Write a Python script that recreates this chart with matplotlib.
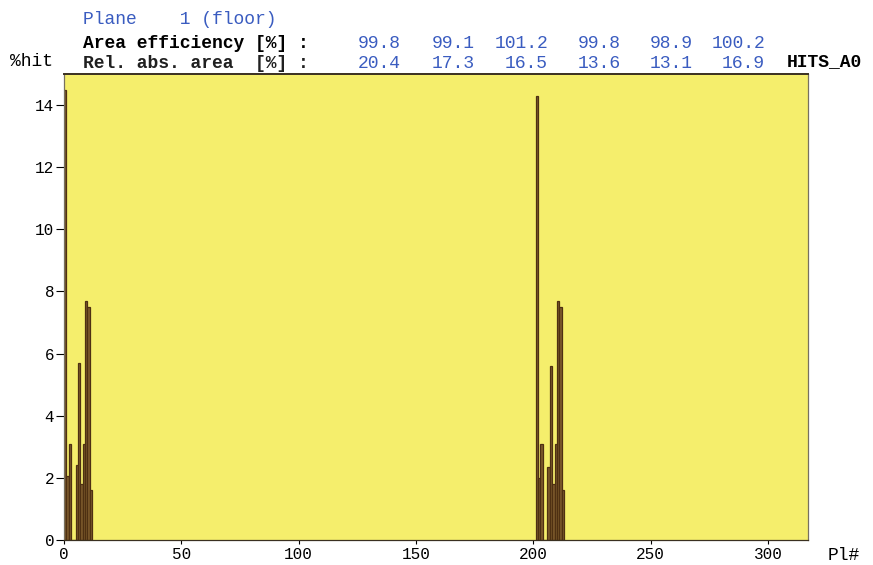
import numpy as np
import matplotlib
import matplotlib.pyplot as plt

matplotlib.rc('font', family='Liberation Mono', size=12)

# channel hit fractions per plate (two populated groups)
chan_a = np.arange(0, 12)
hits_a = [14.5, 2.05, 3.1, 0.0, 0.0, 2.4, 5.7, 1.8, 3.1, 7.7, 7.5, 1.6]
chan_b = np.arange(201, 213)
hits_b = [14.3, 2.0, 3.1, 0.0, 0.0, 2.35, 5.6, 1.8, 3.1, 7.7, 7.5, 1.6]

area_eff = [99.8, 99.1, 101.2, 99.8, 98.9, 100.2]
rel_area = [20.4, 17.3, 16.5, 13.6, 13.1, 16.9]

yticks = [0, 2, 4, 6, 8, 10, 12, 14]
xticks = [0, 50, 100, 150, 200, 250, 300]

W, H = 873, 565
fig = plt.figure(figsize=(W / 100, H / 100), dpi=100)
ax = fig.add_axes([64 / W, 1 - 540 / H, (808 - 64) / W, (540 - 74) / H])
ax.set_facecolor('#f5ee6c')

bar_kw = dict(width=1.0, align='edge', color='#7c5a2c', edgecolor='#4e3012', linewidth=0.9)
ax.bar(chan_a, hits_a, **bar_kw)
ax.bar(chan_b, hits_b, **bar_kw)

ax.set_xlim(0, 317)
ax.set_ylim(0, 15)
ax.set_yticks(yticks)
ax.set_xticks(xticks)
ax.tick_params(axis='y', direction='out', length=6, width=0.8, pad=1, labelsize=11.5)
ax.tick_params(axis='x', direction='out', length=3, width=0.8, pad=2, labelsize=11.5)
for s in ax.spines.values():
    s.set_color('#777060')
    s.set_linewidth(0.9)
ax.spines['top'].set_color('#3a3020')
ax.spines['top'].set_linewidth(1.4)
ax.spines['bottom'].set_color('#3a3020')

blue = '#3a5cc0'
mono = dict(family='Liberation Mono', fontsize=13)


def px(x, y):
    return x / W, 1 - y / H


fig.text(*px(83, 20), 'Plane    1 (floor)', color=blue, va='center', **mono)
fig.text(*px(83, 44), 'Area efficiency [%] :', color='black', fontweight='bold', va='center', **mono)
fig.text(*px(83, 64), 'Rel. abs. area  [%] :', color='#202020', fontweight='bold', va='center', **mono)

col_right = [401, 475, 548, 621, 693, 765]
for xr, v in zip(col_right, area_eff):
    fig.text(*px(xr, 44), f'{v:.1f}', color=blue, ha='right', va='center', **mono)
for xr, v in zip(col_right, rel_area):
    fig.text(*px(xr, 64), f'{v:.1f}', color=blue, ha='right', va='center', **mono)

fig.text(*px(10, 62), '%hit', color='black', va='center', **mono)
fig.text(*px(787, 62), 'HITS_A0', color='black', fontweight='bold', va='center', **mono)
fig.text(*px(828, 555), 'Pl#', color='black', va='center', **mono)

fig.savefig('out.png', dpi=100)
